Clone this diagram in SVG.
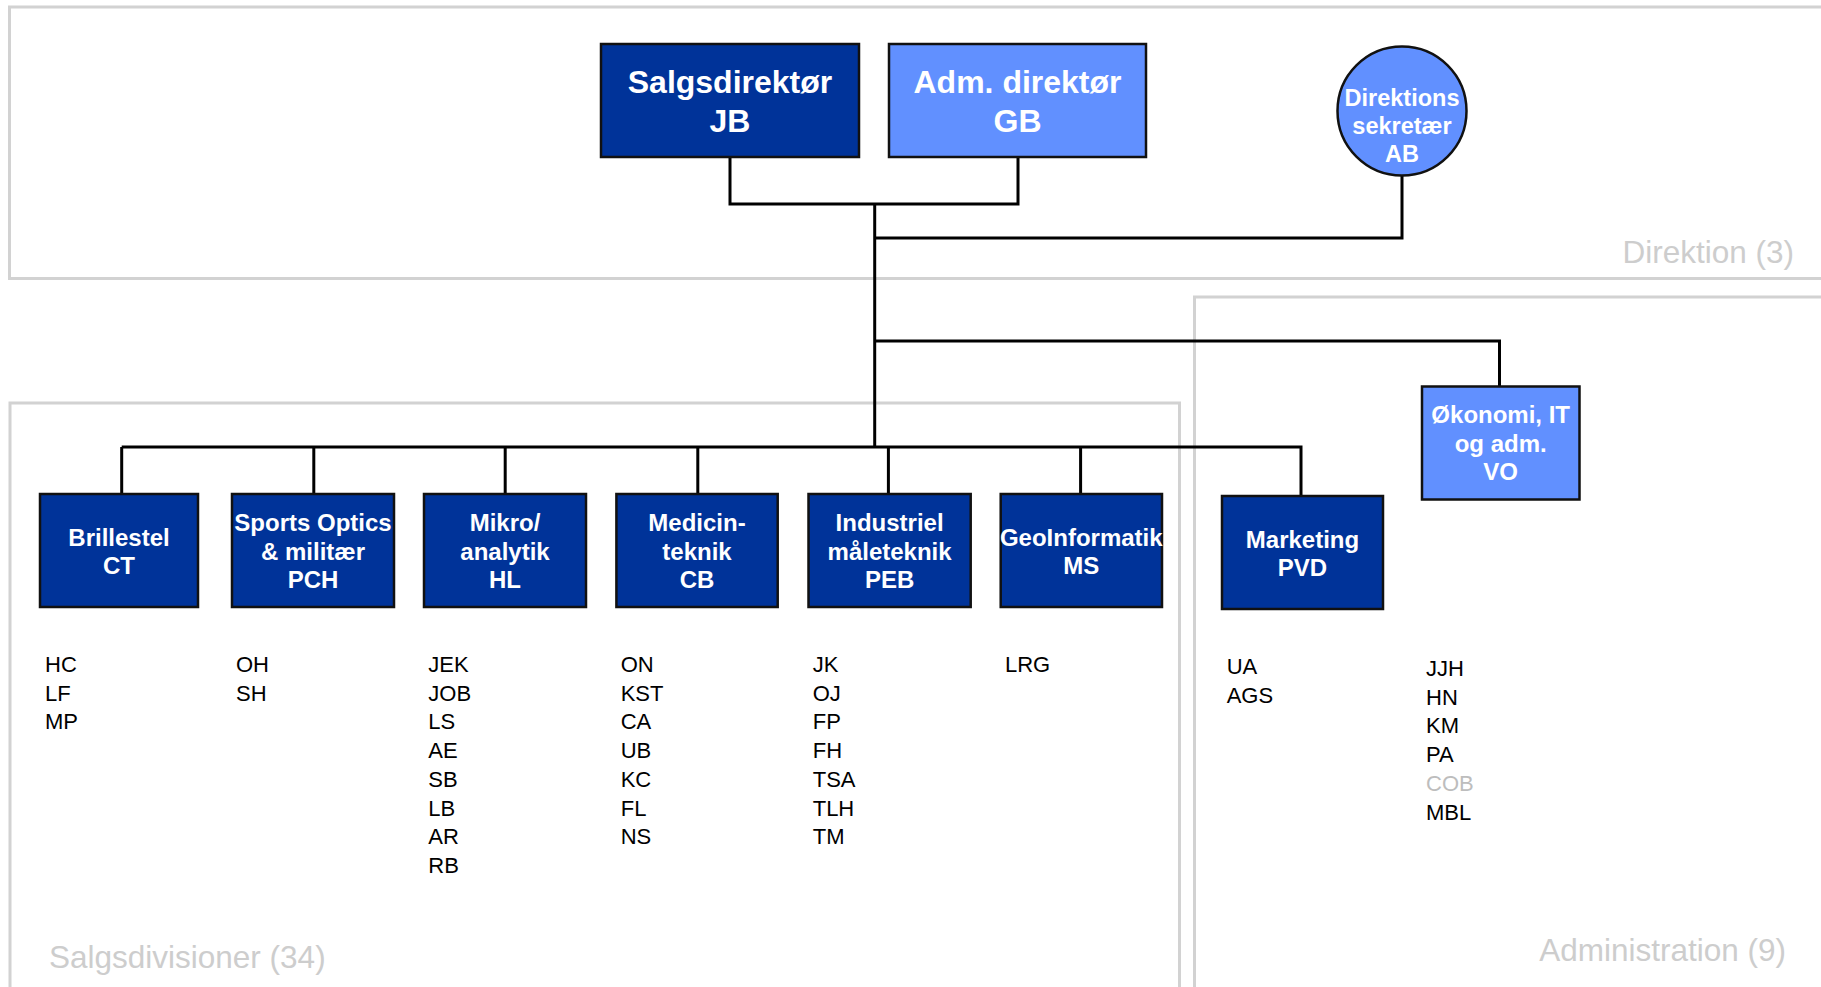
<svg xmlns="http://www.w3.org/2000/svg" width="1821" height="987" viewBox="0 0 1821 987">
<style>
.frame{fill:none;stroke:#d2d2d2;stroke-width:3}
.flabel{font-family:"Liberation Sans",Arial,sans-serif;font-size:31.5px;fill:#cdcdcd}
.dark{fill:#003399;stroke:#111;stroke-width:2.5}
.light{fill:#6190ff;stroke:#111;stroke-width:2.5}
.nt{font-family:"Liberation Sans",Arial,sans-serif;font-weight:bold;font-size:24px;fill:#fff;text-anchor:middle}
.big{font-size:32px}
.sec{font-size:23.5px}
.conn{fill:none;stroke:#000;stroke-width:3}
.list{font-family:"Liberation Sans",Arial,sans-serif;font-size:22px;fill:#000}
.grey{fill:#bdbdbd}
</style>
<rect width="1821" height="987" fill="#fff"/>
<g id="frames">
<path class="frame" d="M1821,7 H9.5 V278.5 H1821"/>
<path class="frame" d="M1821,297 H1194.5 V987"/>
<path class="frame" d="M10,987 V403 H1179.5 V987"/>
<text class="flabel" x="1794" y="263" text-anchor="end">Direktion (3)</text>
<text class="flabel" x="49" y="968">Salgsdivisioner (34)</text>
<text class="flabel" x="1786" y="961" text-anchor="end">Administration (9)</text>
</g>
<g id="connectors">
<path class="conn" d="M730,157 V204 H1018 V157"/>
<path class="conn" d="M874.7,204 V447"/>
<path class="conn" d="M874.7,238 H1402 V175"/>
<path class="conn" d="M874.7,341 H1499.5 V386"/>
<path class="conn" d="M121.7,447 H1301 V496"/>
<path class="conn" d="M121.7,447 V494 M313.8,447 V494 M505.2,447 V494 M697.8,447 V494 M888.4,447 V494 M1080.6,447 V494"/>
</g>
<g id="salgsdirektor">
<rect class="dark" x="601" y="44" width="258" height="113"/>
<text class="nt big"><tspan x="730" y="93.3">Salgsdirektør</tspan><tspan x="730" y="131.5">JB</tspan></text>
</g>
<g id="admdirektor">
<rect class="light" x="889" y="44" width="257" height="113"/>
<text class="nt big"><tspan x="1017.5" y="93.3">Adm. direktør</tspan><tspan x="1017.5" y="131.5">GB</tspan></text>
</g>
<g id="sekretaer">
<circle class="light" cx="1402" cy="111" r="64.5"/>
<text class="nt sec"><tspan x="1402" y="106">Direktions</tspan><tspan x="1402" y="134">sekretær</tspan><tspan x="1402" y="162">AB</tspan></text>
</g>
<g id="brillestel">
<rect class="dark" x="40" y="494" width="158" height="113"/>
<text class="nt"><tspan x="119" y="546">Brillestel</tspan><tspan x="119" y="574">CT</tspan></text>
</g>
<g id="sportsoptics">
<rect class="dark" x="232" y="494" width="162" height="113"/>
<text class="nt"><tspan x="313" y="530.7">Sports Optics</tspan><tspan x="313" y="559.5">&amp; militær</tspan><tspan x="313" y="588.3">PCH</tspan></text>
</g>
<g id="mikro">
<rect class="dark" x="424" y="494" width="162" height="113"/>
<text class="nt"><tspan x="505" y="530.7">Mikro/</tspan><tspan x="505" y="559.5">analytik</tspan><tspan x="505" y="588.3">HL</tspan></text>
</g>
<g id="medicin">
<rect class="dark" x="616.4" y="494" width="161.3" height="113"/>
<text class="nt"><tspan x="697" y="530.7">Medicin-</tspan><tspan x="697" y="559.5">teknik</tspan><tspan x="697" y="588.3">CB</tspan></text>
</g>
<g id="industriel">
<rect class="dark" x="808.5" y="494" width="162.2" height="113"/>
<text class="nt"><tspan x="889.6" y="530.7">Industriel</tspan><tspan x="889.6" y="559.5">måleteknik</tspan><tspan x="889.6" y="588.3">PEB</tspan></text>
</g>
<g id="geoinformatik">
<rect class="dark" x="1000.7" y="494" width="161.3" height="113"/>
<text class="nt"><tspan x="1081.3" y="546">GeoInformatik</tspan><tspan x="1081.3" y="574">MS</tspan></text>
</g>
<g id="marketing">
<rect class="dark" x="1222" y="496" width="161" height="113"/>
<text class="nt"><tspan x="1302.5" y="548">Marketing</tspan><tspan x="1302.5" y="576">PVD</tspan></text>
</g>
<g id="okonomi">
<rect class="light" x="1422" y="386.5" width="157.5" height="113"/>
<text class="nt"><tspan x="1500.7" y="423.3">Økonomi, IT</tspan><tspan x="1500.7" y="451.5">og adm.</tspan><tspan x="1500.7" y="480">VO</tspan></text>
</g>
<g id="lists">
<text class="list"><tspan x="45" y="672">HC</tspan><tspan x="45" y="700.7">LF</tspan><tspan x="45" y="729.4">MP</tspan></text>
<text class="list"><tspan x="236" y="672">OH</tspan><tspan x="236" y="700.7">SH</tspan></text>
<text class="list"><tspan x="428.3" y="672">JEK</tspan><tspan x="428.3" y="700.7">JOB</tspan><tspan x="428.3" y="729.4">LS</tspan><tspan x="428.3" y="758.1">AE</tspan><tspan x="428.3" y="786.8">SB</tspan><tspan x="428.3" y="815.5">LB</tspan><tspan x="428.3" y="844.2">AR</tspan><tspan x="428.3" y="872.9">RB</tspan></text>
<text class="list"><tspan x="620.7" y="672">ON</tspan><tspan x="620.7" y="700.7">KST</tspan><tspan x="620.7" y="729.4">CA</tspan><tspan x="620.7" y="758.1">UB</tspan><tspan x="620.7" y="786.8">KC</tspan><tspan x="620.7" y="815.5">FL</tspan><tspan x="620.7" y="844.2">NS</tspan></text>
<text class="list"><tspan x="812.7" y="672">JK</tspan><tspan x="812.7" y="700.7">OJ</tspan><tspan x="812.7" y="729.4">FP</tspan><tspan x="812.7" y="758.1">FH</tspan><tspan x="812.7" y="786.8">TSA</tspan><tspan x="812.7" y="815.5">TLH</tspan><tspan x="812.7" y="844.2">TM</tspan></text>
<text class="list"><tspan x="1005" y="672">LRG</tspan></text>
<text class="list"><tspan x="1226.7" y="674">UA</tspan><tspan x="1226.7" y="702.7">AGS</tspan></text>
<text class="list"><tspan x="1426" y="676">JJH</tspan><tspan x="1426" y="704.7">HN</tspan><tspan x="1426" y="733.4">KM</tspan><tspan x="1426" y="762.1">PA</tspan><tspan x="1426" y="790.8" class="grey">COB</tspan><tspan x="1426" y="819.5">MBL</tspan></text>
</g>
</svg>
